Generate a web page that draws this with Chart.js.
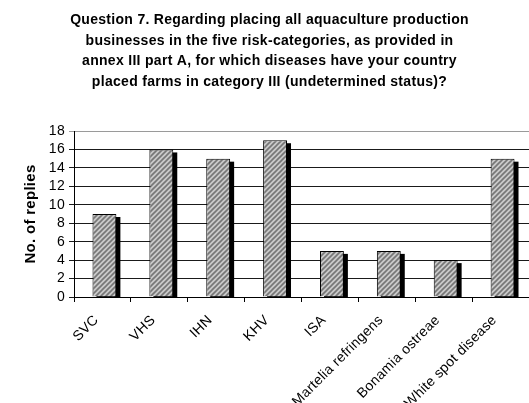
<!DOCTYPE html>
<html>
<head>
<meta charset="utf-8">
<script src="https://cdn.jsdelivr.net/npm/chart.js@4"></script>
<style>
  html, body { margin: 0; padding: 0; background: #fff; }
  #wrap { width: 529px; height: 403px; }
</style>
</head>
<body>
<div id="wrap"><canvas id="q7Chart" width="529" height="403"></canvas></div>
<script>
// Question 7 - diseases with farms placed in category III
const titleLines = [
    'Question 7. Regarding placing all aquaculture production',
    'businesses in the five risk-categories, as provided in',
    'annex III part A, for which diseases have your country',
    'placed farms in category III (undetermined status)?'
];
const diseases = ['SVC', 'VHS', 'IHN', 'KHV', 'ISA', 'Martelia refringens', 'Bonamia ostreae', 'White spot disease'];
const replies = [9, 16, 15, 17, 5, 5, 4, 15];
const yMin = 0;
const yMax = 18;
const yStep = 2;

const FONT = 'Liberation Sans, Arial, sans-serif';

// diagonal hatch fill for the bars
function hatchPattern() {
    const s = 5;
    const c = document.createElement('canvas');
    c.width = s; c.height = s;
    const g = c.getContext('2d');
    g.fillStyle = '#c9c9c9';
    g.fillRect(0, 0, s, s);
    g.strokeStyle = '#767676';
    g.lineWidth = 1.6;
    g.beginPath();
    g.moveTo(-1, s + 1); g.lineTo(s + 1, -1);
    g.moveTo(-1, 1); g.lineTo(1, -1);
    g.moveTo(s - 1, s + 1); g.lineTo(s + 1, s - 1);
    g.stroke();
    return g.createPattern(c, 'repeat');
}

const ctx = document.getElementById('q7Chart').getContext('2d');

// slightly loose letter spacing on all text
const textSpacing = {
    id: 'textSpacing',
    beforeUpdate(chart) { chart.ctx.letterSpacing = '0.3px'; },
    beforeDraw(chart) { chart.ctx.letterSpacing = '0.3px'; }
};

// solid black shadow behind each bar, offset down and right
const barShadow = {
    id: 'barShadow',
    beforeDatasetsDraw(chart) {
        const c = chart.ctx;
        const area = chart.chartArea;
        c.save();
        c.beginPath();
        c.rect(area.left, area.top, area.right - area.left + 10, area.bottom - area.top);
        c.clip();
        c.translate(2, 0);
        c.fillStyle = '#000';
        chart.getDatasetMeta(0).data.forEach((bar) => {
            const p = bar.getProps(['x', 'y', 'base', 'width'], true);
            c.fillRect(p.x - p.width / 2 + 4, p.y + 3, p.width, p.base - p.y);
        });
        c.restore();
        c.save();
        c.translate(2, 0);
    },
    afterDatasetsDraw(chart) {
        chart.ctx.restore();
    }
};

new Chart(ctx, {
    type: 'bar',
    data: {
        labels: diseases,
        datasets: [{
            data: replies,
            backgroundColor: hatchPattern(),
            borderColor: '#000',
            borderWidth: 1,
            barPercentage: 0.42,
            categoryPercentage: 1
        }]
    },
    options: {
        responsive: false,
        animation: false,
        layout: { padding: { left: 10, right: 0, top: 0, bottom: 0 } },
        plugins: {
            legend: { display: false },
            tooltip: { enabled: false },
            title: {
                display: true,
                text: titleLines,
                color: '#000',
                font: { family: FONT, size: 14, weight: 'bold', lineHeight: '20.5px' },
                padding: { top: 10, bottom: 39 }
            }
        },
        scales: {
            x: {
                afterFit: (scale) => { scale.height = 106; },
                border: { display: true, color: '#000', width: 1 },
                grid: {
                    offset: true,
                    drawOnChartArea: false,
                    drawTicks: true,
                    tickLength: 5,
                    color: '#000'
                },
                ticks: {
                    color: '#000',
                    font: { family: FONT, size: 14 },
                    minRotation: 45,
                    maxRotation: 45,
                    autoSkip: false,
                    labelOffset: -6,
                    padding: 10
                }
            },
            y: {
                min: yMin,
                max: yMax,
                afterFit: (scale) => { scale.width = 64; },
                border: { display: true, color: '#000', width: 1 },
                grid: {
                    color: (c) => c.tick && c.tick.value === yMax ? '#9a9a9a' : '#1a1a1a',
                    tickLength: 5,
                    lineWidth: 1
                },
                ticks: {
                    stepSize: yStep,
                    autoSkip: false,
                    color: '#000',
                    font: { family: FONT, size: 14 },
                    padding: 4
                },
                title: {
                    display: true,
                    text: 'No. of replies',
                    color: '#000',
                    font: { family: FONT, size: 15, weight: 'bold' },
                    padding: { top: 12, bottom: 0 }
                }
            }
        }
    },
    plugins: [textSpacing, barShadow]
});
</script>
</body>
</html>
